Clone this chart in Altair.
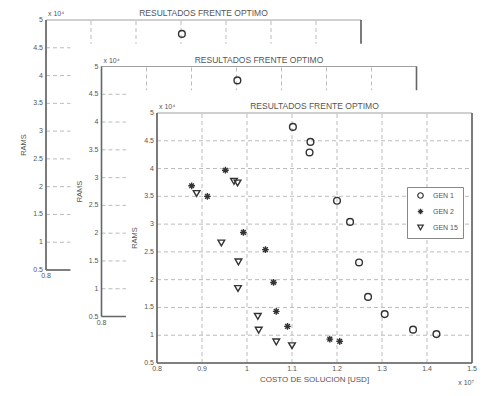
import altair as alt
import pandas as pd

# ---- data (x in units of 1e7 USD, y in units of 1e4) ----
series = ["GEN 1", "GEN 2", "GEN 15"]
gen1_x = [1.102, 1.141, 1.139, 1.200, 1.229, 1.249, 1.269, 1.306, 1.369, 1.421]
gen1_y = [4.75, 4.48, 4.29, 3.42, 3.04, 2.31, 1.69, 1.38, 1.10, 1.02]
gen2_x = [0.877, 0.912, 0.952, 0.992, 1.041, 1.059, 1.065, 1.090, 1.184, 1.206]
gen2_y = [3.69, 3.50, 3.97, 2.85, 2.54, 1.95, 1.43, 1.16, 0.93, 0.89]
gen15_x = [0.888, 0.971, 0.979, 0.943, 0.981, 0.980, 1.024, 1.026, 1.065, 1.100]
gen15_y = [3.55, 3.77, 3.74, 2.66, 2.32, 1.84, 1.34, 1.09, 0.88, 0.81]

x_ticks = [0.8, 0.9, 1.0, 1.1, 1.2, 1.3, 1.4, 1.5]
x_tick_labels = ["0.8", "0.9", "1", "1.1", "1.2", "1.3", "1.4", "1.5"]
y_ticks = [0.5, 1, 1.5, 2, 2.5, 3, 3.5, 4, 4.5, 5]
y_tick_labels = ["0.5", "1", "1.5", "2", "2.5", "3", "3.5", "4", "4.5", "5"]

title_text = "RESULTADOS FRENTE OPTIMO"
x_title = "COSTO DE SOLUCION [USD]"
y_title = "RAMS"
x_exp = "x 10\u2077"
y_exp = "x 10\u2074"

X_MIN, X_MAX = 0.8, 1.5
Y_MIN, Y_MAX = 0.5, 5.0
X_MID, Y_MID = 1.15, 2.75
# figure-window (white sheet) extent, in data units of each panel
FIG_X0, FIG_X1 = 0.731, 1.9
FIG_Y0, FIG_Y1 = -2.0, 5.41

# stacked figure windows: plot-area placement (pixels)
PL = [38, 93.5, 149]
PT = [12, 58.5, 105]
W, H = 315, 250

pts = pd.DataFrame({
    "x": gen1_x + gen2_x + gen15_x,
    "y": gen1_y + gen2_y + gen15_y,
    "gen": [series[0]] * len(gen1_x) + [series[1]] * len(gen2_x) + [series[2]] * len(gen15_x),
})
xt = pd.DataFrame({"v": x_ticks, "lab": x_tick_labels})
yt = pd.DataFrame({"v": y_ticks, "lab": y_tick_labels})
xg = xt.iloc[1:-1]
yg = yt.iloc[1:-1]
one = pd.DataFrame({"a": [0]})

ASTERISK = "M-1,0L1,0M0,-1L0,1M-0.7,-0.7L0.7,0.7M-0.7,0.7L0.7,-0.7"
FONT = "Liberation Sans"
TXT = "#555555"


def panel(k):
    L, T = PL[k], PT[k]
    xs = alt.Scale(domain=[X_MIN, X_MAX], range=[L, L + W], nice=False, zero=False)
    ys = alt.Scale(domain=[Y_MIN, Y_MAX], range=[T + H, T], nice=False, zero=False)

    def fx(f):
        return alt.X(f, type="quantitative", scale=xs, axis=None)

    def fy(f):
        return alt.Y(f, type="quantitative", scale=ys, axis=None)

    def dx(v):
        return alt.XDatum(v, type="quantitative", scale=xs, axis=None)

    def dy(v):
        return alt.YDatum(v, type="quantitative", scale=ys, axis=None)

    base = alt.Chart(one)

    fig = base.mark_rect(fill="white", strokeWidth=0).encode(
        x=dx(FIG_X0), x2=alt.X2Datum(FIG_X1), y=dy(FIG_Y0), y2=alt.Y2Datum(FIG_Y1)
    )
    vgrid = alt.Chart(xg).mark_rule(color="#aaaaaa", strokeDash=[4, 3], strokeWidth=0.8).encode(
        x=fx("v"), y=dy(Y_MIN), y2=alt.Y2Datum(Y_MAX)
    )
    hgrid = alt.Chart(yg).mark_rule(color="#aaaaaa", strokeDash=[4, 3], strokeWidth=0.8).encode(
        y=fy("v"), x=dx(X_MIN), x2=alt.X2Datum(X_MAX)
    )
    box = base.mark_rect(fillOpacity=0, stroke="#a0a0a0", strokeWidth=1).encode(
        x=dx(X_MIN), x2=alt.X2Datum(X_MAX), y=dy(Y_MIN), y2=alt.Y2Datum(Y_MAX)
    )
    left = base.mark_rule(color="#666666", strokeWidth=1.6).encode(
        x=dx(X_MIN), y=dy(Y_MIN), y2=alt.Y2Datum(Y_MAX)
    )
    right = base.mark_rule(color="#666666", strokeWidth=1.6).encode(
        x=dx(X_MAX), y=dy(Y_MIN), y2=alt.Y2Datum(Y_MAX)
    )
    bottom = base.mark_rule(color="#666666", strokeWidth=1.4).encode(
        y=dy(Y_MIN), x=dx(X_MIN), x2=alt.X2Datum(X_MAX)
    )
    points = alt.Chart(pts).mark_point(filled=False, strokeWidth=1.4, size=45, opacity=1).encode(
        x=fx("x"),
        y=fy("y"),
        color=alt.value("#333333"),
        shape=alt.Shape(
            "gen:N",
            scale=alt.Scale(domain=series, range=["circle", ASTERISK, "triangle-down"]),
            legend=alt.Legend(
                title=None, orient="none", legendX=399, legendY=179,
                fillColor="white", strokeColor="#888888", padding=5,
                symbolSize=30, symbolStrokeWidth=1.2, symbolStrokeColor="#333333",
                symbolType="circle", labelFont=FONT, labelFontSize=7, labelColor=TXT,
                labelOffset=9, rowPadding=5, symbolOffset=5,
            ),
        ),
    )
    xlab = alt.Chart(xt).mark_text(font=FONT, fontSize=7, color=TXT, baseline="top", dy=2).encode(
        x=fx("v"), y=dy(Y_MIN), text="lab:N"
    )
    ylab = alt.Chart(yt).mark_text(font=FONT, fontSize=7, color=TXT, align="right", baseline="middle", dx=-3).encode(
        y=fy("v"), x=dx(X_MIN), text="lab:N"
    )
    title = base.mark_text(font=FONT, fontSize=8.5, color=TXT, baseline="alphabetic", dy=-4).encode(
        x=dx(X_MID), y=dy(Y_MAX), text=alt.value(title_text)
    )
    xtitle = base.mark_text(font=FONT, fontSize=8, color=TXT, baseline="middle", dy=17).encode(
        x=dx(X_MID), y=dy(Y_MIN), text=alt.value(x_title)
    )
    ytitle = base.mark_text(font=FONT, fontSize=7.5, color=TXT, angle=270, baseline="middle", dx=0, dy=-22).encode(
        x=dx(X_MIN), y=dy(Y_MID), text=alt.value(y_title)
    )
    yexp = base.mark_text(font=FONT, fontSize=7, color=TXT, align="left", baseline="alphabetic", dx=2, dy=-4).encode(
        x=dx(X_MIN), y=dy(Y_MAX), text=alt.value(y_exp)
    )
    xexp = base.mark_text(font=FONT, fontSize=7, color=TXT, align="right", baseline="middle", dx=2, dy=20).encode(
        x=dx(X_MAX), y=dy(Y_MIN), text=alt.value(x_exp)
    )
    return alt.layer(fig, vgrid, hgrid, box, left, right, bottom, points,
                     xlab, ylab, title, xtitle, ytitle, yexp, xexp)


chart = alt.layer(panel(0), panel(1), panel(2)).resolve_scale(
    x="independent", y="independent"
).properties(
    width=472, height=380, padding=0, autosize="none", background="white"
).configure_view(stroke=None)

chart.save("out.html", embed_options={"renderer": "svg", "actions": False})
